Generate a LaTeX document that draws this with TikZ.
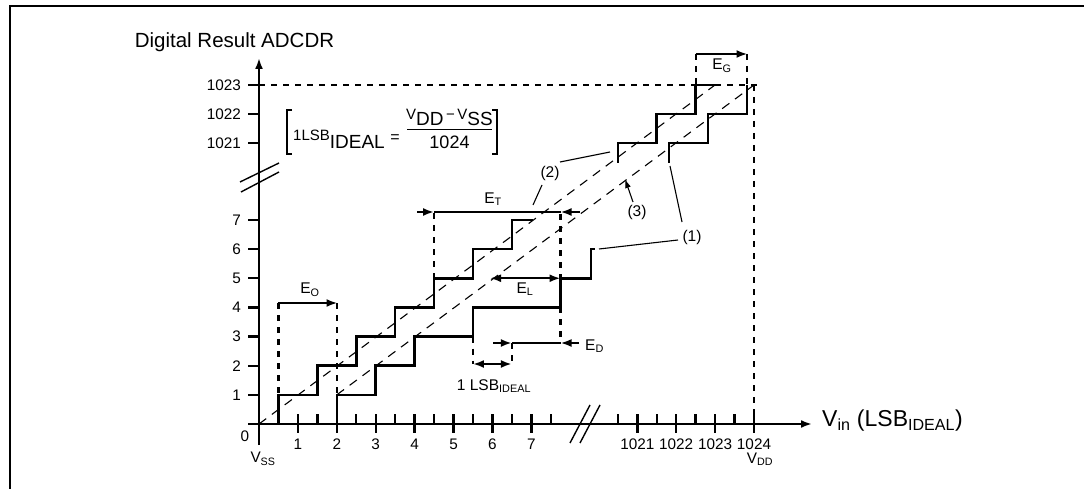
\documentclass[tikz,border=0pt]{standalone}
\usepackage{fontspec}
\setmainfont{Liberation Sans}
\usetikzlibrary{arrows.meta}
\newcommand\fsz[1]{\fontsize{#1}{#1}\selectfont}
\newcommand\lw[1]{\textsubscript{#1}}
\begin{document}
\begin{tikzpicture}[x=1pt,y=-1pt,
  frame/.style={line width=2.5pt},
  ax/.style={line width=2.4pt},
  stair/.style={line width=2.6pt},
  ideal/.style={line width=1.1pt, dash pattern=on 9pt off 7pt},
  guide/.style={line width=2.3pt, dash pattern=on 6pt off 6pt},
  meas/.style={line width=2.3pt},
  tipr/.style={-{Latex[length=11pt,width=8pt]}},
  tipb/.style={{Latex[length=11pt,width=8pt]}-{Latex[length=11pt,width=8pt]}},
  lead/.style={line width=1.1pt},
  brk/.style={line width=1.4pt},
  ticklab/.style={font=\fsz{15.3}, inner sep=0pt},
  elab/.style={font=\fsz{15.5}, inner sep=0pt},
  bigf/.style={font=\fsz{20.5}, inner sep=0pt}
]
\useasboundingbox (0,0) rectangle (1084,489);
% frame
\draw[frame] (10,489) -- (10,6) -- (1084,6);

% axes
\coordinate (yb) at (259,445);
\coordinate (yt) at (259,58);
\coordinate (xl) at (248,424);
\coordinate (xr) at (812,424);
\draw[ax, tipr] (yb) -- (yt);
\draw[ax, tipr] (xl) -- (xr);

% axis breaks
\draw[brk] (240,182) -- (279,163);
\draw[brk] (241,192) -- (279,172);
\draw[brk] (570,443) -- (590,405);
\draw[brk] (580,443) -- (600,405);

% y ticks
\foreach \n/\y in {1/394.85,2/365.7,3/336.55,4/307.4,5/278.25,6/249.1,7/219.95,1021/143,1022/114,1023/85}{
  \draw[ax] (248,\y) -- (259,\y);
  \node[ticklab, anchor=east] (yl\n) at (241,\y) {\n};
}
% x ticks
\foreach \n/\x in {1/297.9,2/336.8,3/375.7,4/414.6,5/453.5,6/492.4,7/531.3,1021/637.3,1022/676.2,1023/715.1,1024/754}{
  \draw[ax] (\x,414) -- (\x,433);
  \node[ticklab] (xlab\n) at (\x,444) {\n};
}
\foreach \x in {278.45,317.35,356.25,395.15,434.05,472.95,511.85,550.75,617.85,656.75,695.65,734.55}{
  \draw[ax] (\x,414) -- (\x,424);
}
\node[ticklab] (zero) at (245,436) {0};
\node[ticklab] (vss) at (263,459) {V\lw{SS}};
\node[ticklab] (vdd) at (760,459) {V\lw{DD}};

% axis titles
\node[bigf] (ytitle) at (234.5,42) {Digital Result ADCDR};
\node[font=\fsz{23}, inner sep=0pt, anchor=west] (xtitle) at (822,421) {V\lw{in} (LSB\lw{IDEAL})};

% ideal transfer lines
\draw[ideal] (259,424) -- (715,85);
\draw[ideal] (336.8,394.85) -- (754,85);

% dashed reference lines
\draw[guide] (259,85) -- (757,85);
\draw[guide] (754,85) -- (754,424);

% staircase (2)
\draw[stair] (278.45,424) -- (278.45,394.85) -- (317.35,394.85) -- (317.35,365.7) -- (356.25,365.7) -- (356.25,336.55) -- (395.15,336.55) -- (395.15,307.4) -- (434.05,307.4) -- (434.05,278.25) -- (472.95,278.25) -- (472.95,249.1) -- (511.85,249.1) -- (511.85,219.95) -- (533,219.95);
\draw[stair] (617.85,163) -- (617.85,143) -- (656.75,143) -- (656.75,114) -- (695.65,114) -- (695.65,85) -- (715,85);
% staircase (1)
\draw[stair] (336.8,424) -- (336.8,394.85) -- (375.7,394.85) -- (375.7,365.7) -- (414.6,365.7) -- (414.6,336.55) -- (472.95,336.55) -- (472.95,307.4) -- (560.5,307.4) -- (560.5,278.25) -- (591,278.25) -- (591,249.1) -- (595,249.1);
\draw[stair] (669,163) -- (669,143) -- (708,143) -- (708,114) -- (747,114) -- (747,85);

% E_O
\draw[guide] (278.45,303) -- (278.45,394.85);
\draw[guide] (336.8,303) -- (336.8,394.85);
\draw[meas, tipr] (278.45,303) -- (337.5,303);
\node[elab] (eo) at (310,290) {E\lw{O}};

% E_T
\draw[guide] (434.05,213) -- (434.05,278.25);
\draw[guide] (560.5,214) -- (560.5,278.25);
\draw[meas, tipr] (417,212) -- (434.05,212);
\draw[meas] (434.05,212) -- (560.5,212);
\draw[meas, tipr] (580,212) -- (560.5,212);
\node[elab] (et) at (493,199) {E\lw{T}};

% E_L
\draw[meas, tipb] (490,278.25) -- (560.5,278.25);
\node[elab] (el) at (525,289) {E\lw{L}};

% E_D
\draw[guide] (560.5,307.4) -- (560.5,343);
\draw[guide] (511.85,343) -- (511.85,364);
\draw[guide] (472.95,336.55) -- (472.95,364);
\draw[meas, tipr] (493,343) -- (511.85,343);
\draw[meas] (511.85,343) -- (560.5,343);
\draw[meas, tipr] (579,343) -- (560.5,343);
\node[elab, anchor=west] (ed) at (585,346) {E\lw{D}};

% 1 LSB
\draw[meas, tipb] (472.95,364) -- (511.85,364);
\node[elab] (lsb) at (494,386) {1 LSB\lw{IDEAL}};

% E_G
\draw[guide] (695.65,54) -- (695.65,85);
\draw[guide] (747,54) -- (747,85);
\draw[meas, tipr] (695.65,54) -- (747.5,54);
\node[elab] (eg) at (722,66) {E\lw{G}};

% leaders
\node[elab] (c2) at (550,173) {(2)};
\node[elab] (c1) at (692,237) {(1)};
\node[elab] (c3) at (637,212) {(3)};
\coordinate (c2a) at (560,162);
\coordinate (c2b) at (610,152);
\coordinate (c2c) at (542,185);
\coordinate (c2d) at (533,205);
\draw[lead] (c2a) -- (c2b);
\draw[lead] (c2c) -- (c2d);
\coordinate (c1a) at (678,240);
\coordinate (c1b) at (599,249);
\coordinate (c1c) at (682,222);
\coordinate (c1d) at (670,166);
\draw[lead] (c1a) -- (c1b);
\draw[lead] (c1c) -- (c1d);
\coordinate (c3a) at (633,202);
\coordinate (c3b) at (625,179);
\draw[lead, -{Latex[length=9pt,width=6pt]}] (c3a) -- (c3b);

% formula
\draw[lead] (292,110) -- (287,110) -- (287,154) -- (292,154);
\draw[lead] (492,110) -- (497,110) -- (497,154) -- (492,154);
\node[inner sep=0pt, anchor=base west] (f1) at (293,149) {{\fsz{15}\raisebox{8pt}{1LSB}}{\fsz{19}IDEAL}};
\node[inner sep=0pt, font=\fsz{16}] (feq) at (395,139) {=};
\draw[line width=0.9pt] (407,129) -- (492,129);
\node[inner sep=0pt, anchor=base] (fnum) at (449.5,126) {{\fsz{15}\raisebox{6pt}{V}}{\fsz{19}DD}{\fsz{15}\,\raisebox{6pt}{−\,V}}{\fsz{19}SS}};
\node[inner sep=0pt, anchor=base, font=\fsz{18}] (fden) at (449.5,149) {1024};
\end{tikzpicture}
\end{document}
